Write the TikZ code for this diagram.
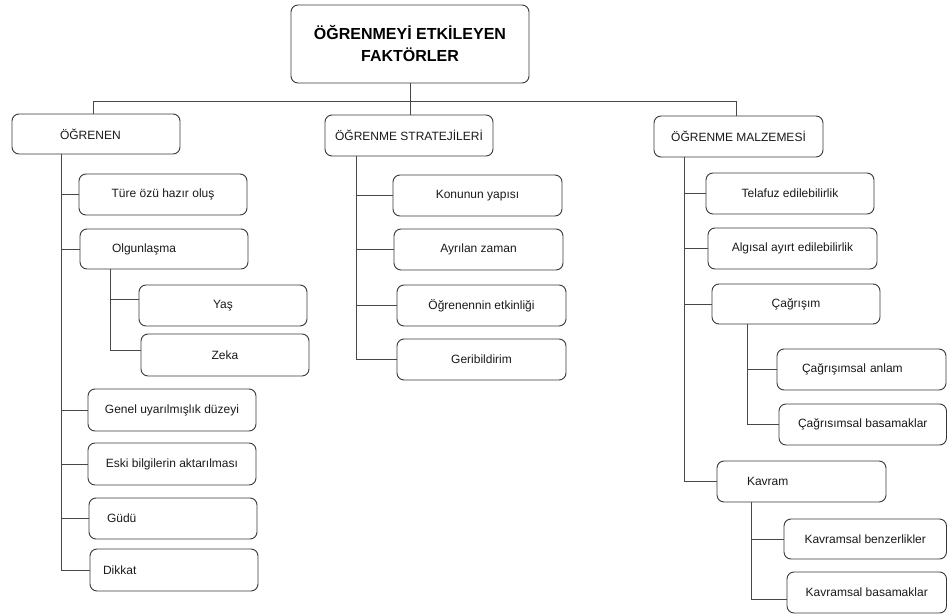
\documentclass[tikz,border=0pt]{standalone}
\usepackage{fontspec}
\setmainfont{Liberation Sans}
\begin{document}
\begin{tikzpicture}[x=1pt,y=-1pt,
  box/.style={draw=black!78,line width=0.9pt,rounded corners=7pt,inner sep=0pt,
    font=\fontsize{12}{14}\selectfont,text=black!90},
  lpad/.style 2 args={text width=#1pt,inner xsep=#2pt,align=left},
  conn/.style={draw=black!72,line width=0.9pt}]
\useasboundingbox (0,0) rectangle (948,615);
\newcommand\bx[7][]{\node[box,minimum width=#5pt,minimum height=#6pt,#1] (#2) at (#3,#4) {#7};}
% title
\bx[font=\fontsize{16}{22}\selectfont\bfseries,align=center,text=black]{title}{410}{44}{238}{78}{\raisebox{2pt}{ÖĞRENMEYİ ETKİLEYEN}\\\raisebox{2pt}{FAKTÖRLER}}
% level 1
\bx[lpad={72}{48}]{ogrenen}{96}{134}{168}{40}{ÖĞRENEN}
\bx{strat}{409}{135.5}{168}{41}{ÖĞRENME STRATEJİLERİ}
\bx{malz}{738.5}{136.5}{169}{41}{ÖĞRENME MALZEMESİ}
% left column
\bx{ture}{163}{194.5}{168}{41}{Türe özü hazır oluş}
\bx[lpad={104}{32}]{olgun}{164}{249}{168}{40}{Olgunlaşma}
\bx{yas}{223}{305.5}{168}{41}{Yaş}
\bx{zeka}{225}{355}{168}{42}{Zeka}
\bx{genel}{172}{410}{168}{42}{Genel uyarılmışlık düzeyi}
\bx{eski}{172}{464}{168}{42}{Eski bilgilerin aktarılması}
\bx[lpad={132}{18}]{gudu}{173}{518.5}{168}{41}{Güdü}
\bx[lpad={142}{13}]{dikkat}{174}{570}{168}{42}{Dikkat}
% middle column
\bx{konu}{477.5}{195.5}{169}{41}{Konunun yapısı}
\bx{ayril}{478.5}{249.5}{169}{41}{Ayrılan zaman}
\bx{etkin}{481.5}{305.5}{169}{41}{Öğrenennin etkinliği}
\bx{geri}{481.5}{359.5}{169}{41}{Geribildirim}
% right column
\bx{telaf}{790}{193.5}{168}{41}{Telafuz edilebilirlik}
\bx{algi}{792.5}{248.5}{169}{41}{Algısal ayırt edilebilirlik}
\bx{cagri}{796}{304}{168}{40}{Çağrışım}
\bx[lpad={119}{25}]{canlam}{861.5}{369.5}{169}{41}{Çağrışımsal anlam}
\bx{cbas}{862.75}{424.5}{167.5}{41}{Çağrısımsal basamaklar}
\bx[lpad={109}{30}]{kavram}{801.5}{481.5}{169}{41}{Kavram}
\bx{kbenz}{865.25}{539}{162.5}{40}{Kavramsal benzerlikler}
\bx{kbas}{866.75}{592.5}{159.5}{41}{Kavramsal basamaklar}
% top connectors
\coordinate (hl) at (93,101);
\coordinate (hr) at (736,101);
\draw[conn] (hl) -- (hr);
\draw[conn] (hl) -- (hl |- ogrenen.north);
\draw[conn] (hr) -- (hr |- malz.north);
\draw[conn] (title.south) -- (title.south |- strat.north);
% left trunk
\coordinate (t1) at (61,154);
\draw[conn] (t1) |- (dikkat.west);
\foreach \c in {ture,olgun,genel,eski,gudu} \draw[conn] (\c.west) -- (\c.west -| t1);
\coordinate (s1) at (110,269);
\draw[conn] (s1) |- ([yshift=5pt]zeka.west);
\draw[conn] ([yshift=6pt]yas.west) -- ([yshift=6pt]yas.west -| s1);
% middle trunk
\coordinate (t2) at (356,156);
\draw[conn] (t2) |- (geri.west);
\foreach \c in {konu,ayril,etkin} \draw[conn] (\c.west) -- (\c.west -| t2);
% right trunk
\coordinate (t3) at (684,157);
\draw[conn] (t3) |- (kavram.west);
\foreach \c in {telaf,algi,cagri} \draw[conn] (\c.west) -- (\c.west -| t3);
\coordinate (s2) at (747,324);
\draw[conn] (s2) |- (cbas.west);
\draw[conn] (canlam.west) -- (canlam.west -| s2);
\coordinate (s3) at (751,502);
\draw[conn] (s3) |- ([yshift=-6.5pt]kbas.west);
\draw[conn] (kbenz.west) -- (kbenz.west -| s3);
\end{tikzpicture}
\end{document}
